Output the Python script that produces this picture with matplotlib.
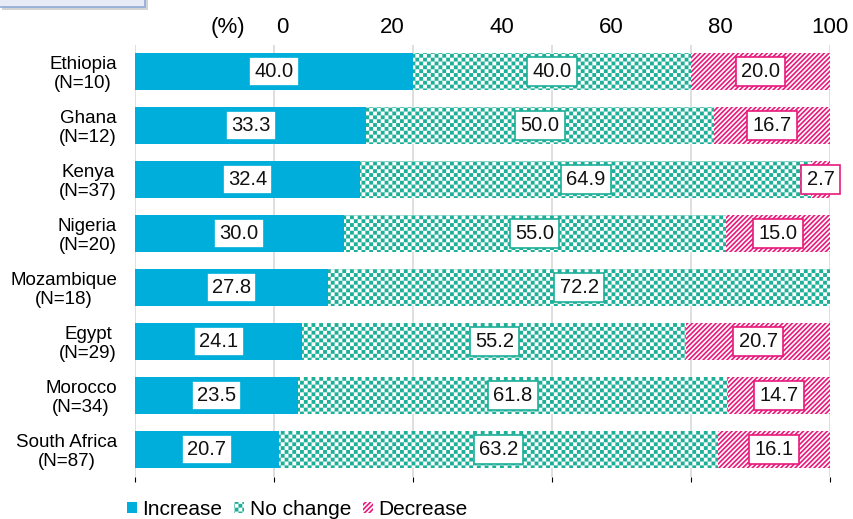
"""Stacked 100% bars: change in activity by country (Increase / No change / Decrease)."""

import warnings

import matplotlib
import numpy as np

matplotlib.use("Agg")
import matplotlib.hatch as mhatch  # noqa: E402
import matplotlib.pyplot as plt  # noqa: E402
from matplotlib.patches import Rectangle  # noqa: E402
from matplotlib.path import Path  # noqa: E402

warnings.filterwarnings("ignore", category=matplotlib.MatplotlibDeprecationWarning)

countries = ["Ethiopia", "Ghana", "Kenya", "Nigeria", "Mozambique", "Egypt", "Morocco", "South Africa"]
n_resp = [10, 12, 37, 20, 18, 29, 34, 87]
increase = [40.0, 33.3, 32.4, 30.0, 27.8, 24.1, 23.5, 20.7]
no_change = [40.0, 50.0, 64.9, 55.0, 72.2, 55.2, 61.8, 63.2]
decrease = [20.0, 16.7, 2.7, 15.0, 0.0, 20.7, 14.7, 16.1]
series_names = ["Increase", "No change", "Decrease"]
top_ticks = [-10, 0, 20, 40, 60, 80, 100]
top_labels = ["(%)", "0", "20", "40", "60", "80", "100"]

BLUE = "#00AEDB"
TEAL = "#1DAF98"
PINK = "#E8197B"
GRID = "#D9D9D9"

_SQUARE = [Path.MOVETO, Path.LINETO, Path.LINETO, Path.LINETO, Path.CLOSEPOLY]


class CheckerHatch(mhatch.HatchPatternBase):
    """'c' -> filled checkerboard, n x n cells per hatch tile."""

    def __init__(self, hatch, density):
        self.n = 26 if "c" in hatch else 0
        self.num_vertices = self.n * self.n // 2 * 5

    def set_vertices_and_codes(self, vertices, codes):
        s = 1.0 / self.n
        sq = np.array([[0, 0], [s, 0], [s, s], [0, s], [0, 0]], dtype=float)
        k = 0
        for i in range(self.n):
            for j in range(self.n):
                if (i + j) % 2:
                    continue
                vertices[k:k + 5] = sq + [i * s, j * s]
                codes[k:k + 5] = _SQUARE
                k += 5


class StripeHatch(mhatch.HatchPatternBase):
    """'s' -> filled '/' bands, half colour half blank."""

    def __init__(self, hatch, density):
        self.n = 21 if "s" in hatch else 0
        self.num_vertices = 2 * self.n * 5

    def set_vertices_and_codes(self, vertices, codes):
        w = 0.5 / self.n
        k = 0
        for m in range(-self.n, self.n):
            a = m / self.n
            vertices[k:k + 5] = [[a, 0], [a + w, 0], [a + w + 1, 1], [a + 1, 1], [a, 0]]
            codes[k:k + 5] = _SQUARE
            k += 5


mhatch._hatch_types.extend([CheckerHatch, StripeHatch])

plt.rcParams["font.family"] = ["Liberation Sans", "DejaVu Sans"]
plt.rcParams["hatch.linewidth"] = 0.01

fig = plt.figure(figsize=(8.54, 5.19), dpi=100)
ax = fig.add_axes([135 / 854, 1 - 477 / 519, 695 / 854, 432 / 519])

y = np.arange(len(countries))
inc = np.array(increase)
noc = np.array(no_change)
dec = np.array(decrease)
h = 0.685

b_inc = ax.barh(y, inc, height=h, color=BLUE, linewidth=0, label=series_names[0])
b_noc = ax.barh(y, noc, left=inc, height=h, facecolor="white", edgecolor=TEAL,
                hatch="c", linewidth=0, label=series_names[1])
b_dec = ax.barh(y, dec, left=inc + noc, height=h, facecolor="white", edgecolor=PINK,
                hatch="s", linewidth=0, label=series_names[2])

for cont, vals, col in [(b_inc, increase, BLUE), (b_noc, no_change, TEAL), (b_dec, decrease, PINK)]:
    ax.bar_label(cont, labels=[f"{v:.1f}" if v > 0 else "" for v in vals],
                 label_type="center", fontsize=14.5, color="#111111",
                 bbox=dict(boxstyle="square,pad=0.26", facecolor="white",
                           edgecolor=col, linewidth=1.2))

ax.set_xlim(0, 100)
ax.set_ylim(len(countries) - 0.49, -0.49)
ax.set_xticks(range(0, 101, 20))
ax.grid(axis="x", color=GRID, linewidth=1.2)
ax.set_axisbelow(True)
ax.tick_params(axis="x", bottom=False, labelbottom=False)
ax.tick_params(axis="y", length=0, pad=13, labelsize=13.5)
ax.set_yticks(y, labels=[f"{c}\n(N={n})" for c, n in zip(countries, n_resp)])
for lab in ax.get_yticklabels():
    lab.set_multialignment("center")
    lab.set_linespacing(1.1)
for sp in ax.spines.values():
    sp.set_visible(False)

# percent scale shown above the plot
ax2 = ax.twiny()
ax2.set_xlim(-27.0, 99.7)
ax2.set_xticks(top_ticks, labels=top_labels)
ax2.tick_params(axis="x", length=0, pad=5, labelsize=16)
for sp in ax2.spines.values():
    sp.set_visible(False)

fig.legend(handles=[b_inc, b_noc, b_dec], labels=series_names, loc="center",
           bbox_to_anchor=(0.348, 0.019), ncol=3, frameon=False, fontsize=15,
           handlelength=0.5, handleheight=0.42, handletextpad=0.25,
           columnspacing=0.55, borderpad=0, borderaxespad=0)

# clipped text box in the upper-left corner
fig.patches.append(Rectangle((2 / 854, 1 - 10 / 519), 146 / 854, 12 / 519,
                             transform=fig.transFigure, facecolor="#B8B8B8",
                             edgecolor="none", alpha=0.6))
fig.patches.append(Rectangle((-2 / 854, 1 - 7 / 519), 147 / 854, 12 / 519,
                             transform=fig.transFigure, facecolor="#E6EBF6",
                             edgecolor="#8FA9D8", linewidth=1.2))

fig.savefig("out.png")
